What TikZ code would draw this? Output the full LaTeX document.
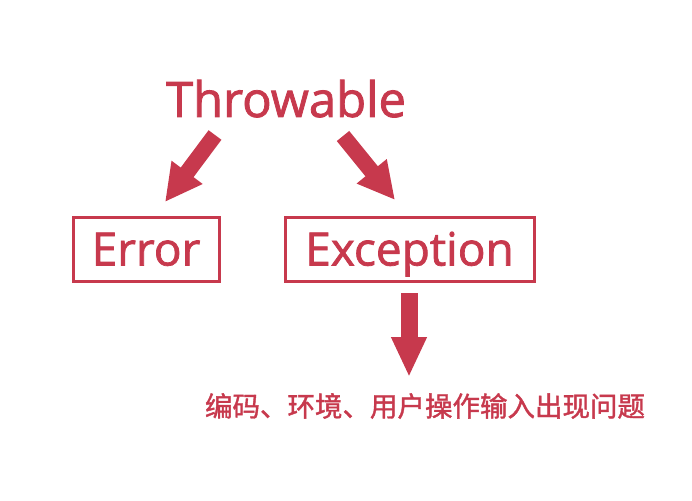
\documentclass[tikz,border=0pt]{standalone}
\usepackage{fontspec}
\setmainfont{Open Sans}
\newfontfamily\semib{Open Sans}[FakeBold=1.6]
\newfontfamily\cjk{Noto Sans CJK SC}[FakeBold=1.4]
\usetikzlibrary{arrows.meta}
\definecolor{crim}{RGB}{199,57,77}
\begin{document}
\begin{tikzpicture}[x=1pt,y=-1pt,
  fat/.style={draw=crim, line width=16pt, -{Triangle[width=36pt,length=37pt]}},
  fatdown/.style={draw=crim, line width=17pt, -{Triangle[width=33pt,length=40pt]}},
  box/.style={draw=crim, line width=3pt, text=crim, font=\semib\fontsize{46}{50}\selectfont,
    text height=33pt, text depth=0pt, inner sep=0pt, minimum height=64pt},
  title/.style={text=crim, font=\semib\fontsize{49}{55}\selectfont, inner sep=0pt, anchor=base},
  note/.style={text=crim, font=\cjk\fontsize{27.5}{30}\selectfont, inner sep=0pt}]
\useasboundingbox (0,0) rectangle (692,500);
\node[title] (thr) at (286,117) {Throwable};
\node[box, minimum width=146pt] (err) at (146,249) {Error};
\node[box, minimum width=249pt] (exc) at (409.5,249) {Exception};
\node[note] (txt) at (425,406) {编码、环境、用户操作输入出现问题};
\coordinate (a1s) at (215,135);
\coordinate (a1e) at (165,202);
\coordinate (a2s) at (343,136);
\coordinate (a2e) at (395,200);
\coordinate (a3s) at (409,293);
\coordinate (a3e) at (409,377);
\draw[fat] (a1s) -- (a1e);
\draw[fat] (a2s) -- (a2e);
\draw[fatdown] (a3s) -- (a3e);
\end{tikzpicture}
\end{document}
